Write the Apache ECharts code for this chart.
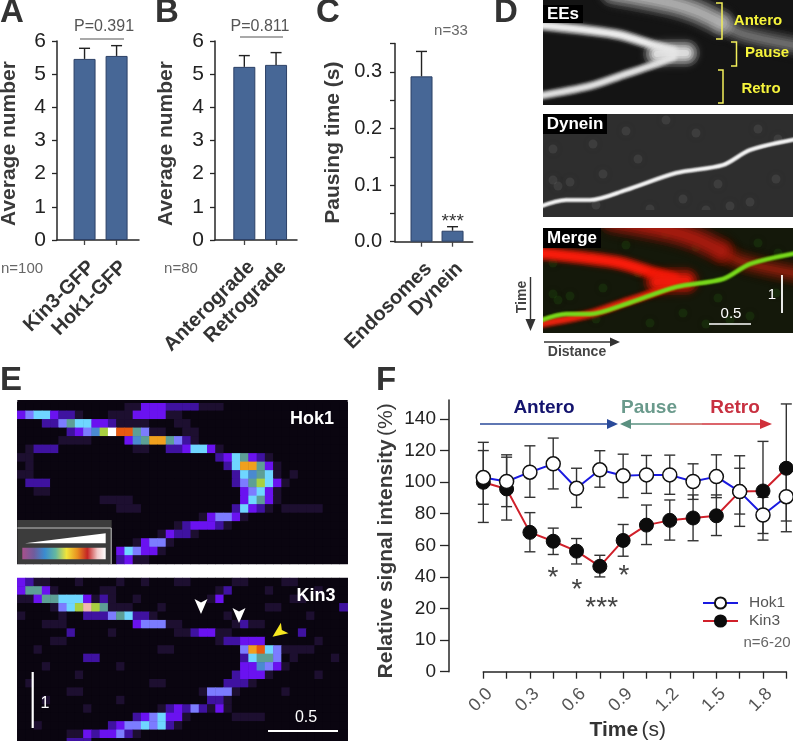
<!DOCTYPE html>
<html><head><meta charset="utf-8">
<style>html,body{margin:0;padding:0;background:#fff}#c{width:793px;height:741px}</style>
<script src="https://cdn.jsdelivr.net/npm/echarts@6/dist/echarts.min.js"></script>
</head><body><div id="c"></div>
<script>
// ---------- Data ----------
const aCats=['Kin3-GFP','Hok1-GFP'], aVals=[5.46,5.55], aHi=[5.78,5.86];
const bCats=['Anterograde','Retrograde'], bVals=[5.22,5.28], bHi=[5.56,5.65];
const cCats=['Endosomes','Dynein'], cVals=[0.292,0.0194], cHi=[0.336,0.0265];

const fTimes=['0.0','0.15','0.3','0.45','0.6','0.75','0.9','1.05','1.2','1.35','1.5','1.65','1.8','1.95'];
const fTickValues=[-20,0,20,40,60,80,100,120,140];
const fTickLabels=['0','10','20','40','60','80','100','120','140'];
const hok1Mean=[102.9,100.4,106.3,111.6,96.1,107.8,104,104.6,104.6,100.4,103.5,94,79.2,90.8];
const hok1Up=[120,115.8,123,127.9,108.8,119.9,117.7,116.9,117.1,111.6,117.3,116.7,90.4,106.3];
const hok1Lo=[86,84.5,90.4,95.7,84,96.8,90.2,92.9,92.3,89.1,90.2,72,67.5,75.4];
const kin3Mean=[99.9,95.7,68.2,62.6,56.3,46.7,63.1,72.8,75.8,77.3,78.7,94,94.4,108.8];
const kin3Up=[125.2,117.3,80.7,70.9,64.3,53.7,73.2,85.5,88.7,91.9,91.9,108.8,125.8,149.5];
const kin3Lo=[74.5,76,55.9,54.2,48.2,40,53.1,60.5,63.3,62.9,66.2,79.8,63.3,68.6];

// Kymograph traces (distance, time)
const eeOutbound=[[-4,25],[43,30],[77,35],[110,45],[130,51]];
const eeReturn=[[-4,96],[47,86],[80,75],[110,65],[130,57]];
const eeTip=[[114,54],[128,53],[143,53]];
const eeAntero=[[70,-8],[127,3],[153,11],[178,23]];
const eeAnteroTail=[[178,23],[200,34],[255,46]];
const dyneinTrace=[[-4,93],[23,86],[47,86],[83,76],[133,59],[180,51],[207,36],[254,25]];
const dyneinSpots=[[10,66],[15,72],[53,91],[50,30],[27,68],[83,17],[123,6],[153,19],[187,92],[233,65],[207,88],[163,96],[107,95],[10,35],[60,60],[140,85],[215,15],[235,25],[95,45],[175,70]];

// Pseudocolour kymographs: [row, first column, levels (base 36)]
const heatColumns=Array.from({length:40},(_,i)=>i);
const hok1Cells=[
[0,13,'11'],[0,15,'3332222'],[0,22,'11'],[0,24,'1'],
[1,0,'34553221'],[1,11,'111'],[1,14,'3333'],[1,18,'11'],
[2,3,'224655332'],[2,12,'1111'],[2,19,'11'],
[3,6,'234c7a996411'],[3,20,'11'],
[4,5,'1111'],[4,13,'3c688642'],[4,21,'1'],
[5,1,'1222'],[5,14,'11'],[5,18,'2235531'],
[6,0,'11'],[6,24,'2356321'],
[7,1,'1'],[7,25,'2588631'],
[8,0,'11'],[8,26,'25c651'],[8,33,'1'],
[9,1,'222'],[9,26,'2467531'],
[10,2,'11'],[10,27,'34531'],
[11,10,'1111'],[11,27,'35631'],
[12,12,'111'],[12,26,'25321'],[12,32,'11111'],
[13,22,'134431'],
[14,19,'1233321'],
[15,17,'13221'],
[16,14,'13441'],
[17,12,'354331'],
[18,12,'2311']];
const kin3Cells=[
[0,0,'3211'],[0,7,'1'],[0,12,'1'],[0,15,'1'],[0,19,'11'],[0,26,'11'],[0,32,'11'],
[1,0,'36631'],[1,10,'11'],[1,24,'12'],[1,30,'1'],[1,36,'1'],
[2,0,'113665553121'],[2,14,'1'],[2,23,'13'],[2,33,'11'],
[3,4,'1457b76111'],[3,17,'1'],[3,30,'11'],[3,39,'2'],
[4,0,'1'],[4,5,'1'],[4,8,'222465221'],[4,25,'1'],[4,35,'1'],
[5,3,'111'],[5,14,'3444'],[5,18,'11'],[5,26,'1211'],
[6,6,'2'],[6,11,'1'],[6,19,'1123311'],[6,34,'2'],
[7,24,'122333'],[7,4,'11'],[7,36,'1'],
[8,2,'1'],[8,17,'11'],[8,27,'48954'],[8,32,'1111'],
[9,8,'22'],[9,27,'25664'],[9,33,'1'],[9,38,'1'],
[10,12,'1'],[10,27,'33c431'],[10,3,'1'],
[11,7,'1'],[11,26,'23331'],[11,36,'1'],
[12,16,'11'],[12,25,'2221'],[12,1,'1'],
[13,6,'11'],[13,22,'14441'],[13,32,'1'],
[14,12,'1'],[14,23,'221'],[14,3,'1'],
[15,17,'123242131'],[15,8,'1'],
[16,14,'2345331'],[16,26,'1111'],
[17,11,'234454521'],[17,2,'1'],
[18,6,'11'],[18,8,'3233421'],
[19,6,'222']];
const heatPalette=['#0a0510','#1d0f30','#3f12a0','#6a12f0','#7c7cff','#6fd6ff','#5d9f96','#a8d040','#f0a01e','#e85a10','#ffffff','#f0b8b0','#4a8ad0'];

// ---------- Helpers ----------
const DARK='#262626', FONT='"Liberation Sans",Arial,sans-serif';
const grids=[],xAxes=[],yAxes=[],series=[],gfx=[];
function addGrid(left,top,width,height,extra){grids.push(Object.assign({left,top,width,height,containLabel:false,outerBoundsMode:'none'},extra||{}));return grids.length-1;}
function errorSeries(idx,data,cap,lower,color,z){
  series.push({type:'custom',xAxisIndex:idx,yAxisIndex:idx,clip:false,z:z||3,silent:true,
    encode:{x:0,y:[1,2]},data,
    renderItem(p,api){
      const x=api.value(0),a=api.coord([x,api.value(1)]),b=api.coord([x,api.value(2)]);
      const st={stroke:color,lineWidth:1.4,fill:null};
      const kids=[{type:'line',shape:{x1:a[0],y1:a[1],x2:b[0],y2:b[1]},style:st},
                  {type:'line',shape:{x1:a[0]-cap,y1:b[1],x2:a[0]+cap,y2:b[1]},style:st}];
      if(lower)kids.push({type:'line',shape:{x1:a[0]-cap,y1:a[1],x2:a[0]+cap,y2:a[1]},style:st});
      return {type:'group',children:kids};
    }});
}
function barPanel(o){
  const i=addGrid(o.left,o.top,o.width,o.height);
  xAxes.push({gridIndex:i,type:'value',min:o.xMin,max:o.xMax,splitLine:{show:false},
    axisLine:{onZero:false,lineStyle:{color:DARK,width:1.5}},
    axisTick:{customValues:[1,2],length:5,lineStyle:{color:'#444',width:1.3}},
    axisLabel:{customValues:[1,2],rotate:45,verticalAlign:'top',margin:17,color:'#333',fontFamily:FONT,fontWeight:'bold',fontSize:20,
      formatter:v=>o.cats[v-1]}});
  yAxes.push(Object.assign({gridIndex:i,type:'value',min:0,max:o.yMax,interval:o.interval,splitLine:{show:false},
    axisLine:{show:true,lineStyle:{color:DARK,width:1.5}},
    axisTick:{show:true,length:5,lineStyle:{color:DARK,width:1.3}},
    axisLabel:{margin:o.tickMargin||11,padding:[3,0,0,0],color:'#222',fontFamily:FONT,fontSize:o.tickSize||21,formatter:o.fmt},
    name:o.name,nameLocation:'middle',nameGap:o.nameGap,
    nameTextStyle:Object.assign({color:'#3a3a3a',fontFamily:FONT,fontSize:21,fontWeight:'bold'},o.nameStyle||{})}));
  series.push({type:'bar',xAxisIndex:i,yAxisIndex:i,barWidth:22,z:2,
    itemStyle:{color:'#476796',borderColor:'#2c4066',borderWidth:1},
    data:o.vals.map((v,k)=>[k+1,v])});
  errorSeries(i,o.vals.map((v,k)=>[k+1,v,o.hi[k]]),5.5,false,'#222');
}
function text(x,y,str,o){
  gfx.push({type:'text',x,y,rotation:(o&&o.rotation)||0,z:100,silent:true,
    style:Object.assign({text:str,fill:'#555',fontFamily:FONT,fontSize:15,textAlign:'center',textVerticalAlign:'middle'},o&&o.style||{})});
}
function seg(x1,y1,x2,y2,color,w){gfx.push({type:'line',z:100,silent:true,shape:{x1,y1,x2,y2},style:{stroke:color,lineWidth:w||2}});}
function poly(points,color){gfx.push({type:'polygon',z:100,silent:true,shape:{points},style:{fill:color}});}
function pline(points,color,w){gfx.push({type:'polyline',z:100,silent:true,shape:{points},style:{stroke:color,lineWidth:w||1.5,fill:null}});}
function rect(x,y,w,h,fill,stroke){gfx.push({type:'rect',z:99,silent:true,shape:{x,y,width:w,height:h},style:{fill,stroke:stroke||null,lineWidth:1}});}
function label(ch,x,y){text(x,y,ch,{style:{fontSize:33,fontWeight:'bold',fill:'#333',textAlign:'left'}});}

// ---------- A, B, C ----------
const nudge={padding:[0,6,0,0]};
barPanel({left:57,top:41,width:82,height:199,xMin:0.14,xMax:2.7,yMax:6,interval:1,cats:aCats,vals:aVals,hi:aHi,name:'Average number',nameGap:37,nameStyle:nudge});
barPanel({left:215,top:41,width:82,height:199,xMin:0.076,xMax:2.66,yMax:6,interval:1,cats:bCats,vals:bVals,hi:bHi,name:'Average number',nameGap:38,nameStyle:nudge});
barPanel({left:395,top:43.5,width:77.7,height:198.2,xMin:0.145,xMax:2.65,yMax:0.35,interval:0.05,cats:cCats,vals:cVals,hi:cHi,
  tickSize:20,tickMargin:13,fmt:v=>Math.round(v*100)%10===0?v.toFixed(1):'',
  name:'{b|Pausing time} {r|(s)}',nameGap:51,
  nameStyle:{rich:{b:{fontFamily:FONT,fontSize:21,fontWeight:'bold',color:'#3a3a3a'},r:{fontFamily:FONT,fontSize:21,color:'#3a3a3a'}}}});

// ---------- D: kymographs ----------
function softTrace(idx,data,color,width,strength){
  const s=strength==null?1:strength;
  [[2.8,.10],[2.2,.16],[1.6,.24],[1.1,.38],[.6,.6]].forEach(([w,o])=>{
    series.push({type:'line',xAxisIndex:idx,yAxisIndex:idx,data,symbol:'none',smooth:0.3,silent:true,z:2,
      lineStyle:{color,width:width*w,opacity:o*s,cap:'round',join:'round',shadowColor:color,shadowBlur:width*0.9}});
  });
}
function spots(idx,data,color,size){
  series.push({type:'scatter',xAxisIndex:idx,yAxisIndex:idx,data,symbolSize:size,silent:true,z:1,
    itemStyle:{color,shadowColor:color,shadowBlur:10}});
}
function kymoGrid(top,height,bg){
  const i=addGrid(543,top,250,height,{show:true,backgroundColor:bg,borderWidth:0});
  xAxes.push({gridIndex:i,type:'value',min:0,max:250,show:false});
  yAxes.push({gridIndex:i,type:'value',min:0,max:height,inverse:true,show:false});
  return i;
}
const d1=kymoGrid(0,105,'#141414');
softTrace(d1,eeAnteroTail,'#808080',9,0.6);
softTrace(d1,eeAntero,'#b4b4b4',11,0.9);
softTrace(d1,eeOutbound,'#eeeeee',4.5,1.2);
softTrace(d1,eeReturn,'#e2e2e2',3.8,1.15);
softTrace(d1,eeTip,'#e6e6e6',10,1);
const d2=kymoGrid(114,103,'#2e2e2e');
spots(d2,dyneinSpots,'rgba(110,110,110,.28)',9);
softTrace(d2,dyneinTrace,'#f4f4f4',2,1.3);
const d3=kymoGrid(228,105,'#14180a');
spots(d3,dyneinSpots,'rgba(40,110,20,.25)',9);
softTrace(d3,eeAnteroTail,'#a02010',9,0.55);
softTrace(d3,eeAntero,'#a81c10',11,0.95);
softTrace(d3,eeOutbound,'#f81c0c',6,1.3);
softTrace(d3,eeReturn,'#e82410',4,1.2);
softTrace(d3,eeTip,'#f01c0c',10,1.1);
softTrace(d3,dyneinTrace,'#78d81c',2.2,1.3);

// keep the soft strokes inside their panels
[[520,0,23,345,'#fff'],[543,105,250,9,'#fff'],[543,217,250,11,'#fff'],[543,333,250,8,'#fff'],[543,210,250,7,'#2e2e2e']].forEach(([x,y,w,h,c])=>
  gfx.push({type:'rect',z:98,silent:true,shape:{x,y,width:w,height:h},style:{fill:c}}));

function bannerLabel(x,y,w,h,str){rect(x,y,w,h,'#000');text(x+w/2,y+h/2+0.5,str,{style:{fill:'#fff',fontWeight:'bold',fontSize:17}});}
bannerLabel(543,5,40,18,'EEs');bannerLabel(543,114,64,20,'Dynein');bannerLabel(543,228,58,20,'Merge');
const YEL='#f2ee5a';
pline([[716,3],[722,3],[722,39],[716,39]],YEL);
pline([[731,42],[736.5,42],[736.5,66],[731,66]],YEL);
pline([[718,70],[723,70],[723,103],[718,103]],YEL);
const yst={style:{fill:'#f6f43c',fontWeight:'bold',fontSize:15}};
text(758,21,'Antero',yst);text(767,53,'Pause',yst);text(761,89,'Retro',yst);
seg(709,324,751,324,'#fff',1.6);text(731,314,'0.5',{style:{fill:'#fff',fontSize:15}});
seg(782,275,782,313,'#fff',1.8);text(772,295,'1',{style:{fill:'#fff',fontSize:15}});
text(522,297,'Time',{rotation:Math.PI/2,style:{fill:'#444',fontWeight:'bold',fontSize:14}});
seg(530.5,277,530.5,322,'#333',1.4);poly([[525.5,319],[535.5,319],[530.5,331]],'#333');
seg(544,342,612,342,'#333',1.4);poly([[610,337.5],[620,342],[610,346.5]],'#333');
text(577,352,'Distance',{style:{fill:'#444',fontWeight:'bold',fontSize:14}});

// ---------- E: pseudocolour kymographs ----------
function cellsToData(cells,rows){
  const m=Array.from({length:rows},()=>heatColumns.map(()=>0));
  cells.forEach(([r,c,s])=>{[...s].forEach((ch,k)=>{if(c+k<40)m[r][c+k]=parseInt(ch,36);});});
  const out=[];m.forEach((row,r)=>row.forEach((v,c)=>out.push([c,r,v])));return out;
}
const rowIdx=n=>Array.from({length:n},(_,i)=>i);
const heatIdx=[];
function heatPanel(top,height,rows,cells){
  const i=addGrid(17.3,top,330.4,height,{show:true,backgroundColor:heatPalette[0],borderWidth:0});
  xAxes.push({gridIndex:i,type:'category',data:heatColumns,show:false});
  yAxes.push({gridIndex:i,type:'category',data:rowIdx(rows),inverse:true,show:false});
  heatIdx.push(series.length);
  series.push({type:'heatmap',xAxisIndex:i,yAxisIndex:i,silent:true,progressive:0,data:cellsToData(cells,rows)});
}
rect(17.3,400,330.4,3,heatPalette[0]);
heatPanel(402.3,161.7,19,hok1Cells);
heatPanel(578,168.7,20,kin3Cells);
text(312,419,'Hok1',{style:{fill:'#fff',fontWeight:'bold',fontSize:18}});
text(316,596,'Kin3',{style:{fill:'#fff',fontWeight:'bold',fontSize:18}});
rect(17.3,520,94.4,44,'#3c3c3c');
pline([[17.3,528],[111.2,528],[111.2,564]],'#bdbdbd',1);
poly([[25,543.3],[105.7,533.3],[105.7,543.3]],'#fff');
gfx.push({type:'rect',z:100,silent:true,shape:{x:22.3,y:547.7,width:83.4,height:11.6},style:{fill:new echarts.graphic.LinearGradient(0,0,1,0,[
 {offset:0,color:'#a8508c'},{offset:.14,color:'#705c9c'},{offset:.27,color:'#3a8cd0'},{offset:.4,color:'#64b8a0'},{offset:.53,color:'#f2e43a'},{offset:.66,color:'#e89020'},{offset:.78,color:'#c42424'},{offset:.9,color:'#f0c8c8'},{offset:1,color:'#ffffff'}])}});
function chevron(cx,cy,ang,color){
  const p=[[-6.5,-7],[0,-3.5],[6.5,-7],[0,8]].map(([x,y])=>[cx+x*Math.cos(ang)-y*Math.sin(ang),cy+x*Math.sin(ang)+y*Math.cos(ang)]);
  poly(p,color);
}
chevron(201,606,0,'#fff');chevron(239,615,0,'#fff');chevron(279,632,0.95,'#f6e620');
seg(32.7,672,32.7,728,'#fff',2.2);text(45,704,'1',{style:{fill:'#fff',fontSize:16}});
seg(268,731,338,731,'#fff',2.2);text(306,718,'0.5',{style:{fill:'#fff',fontSize:16}});

// ---------- F ----------
const f=addGrid(483.3,400,303,271.7);
xAxes.push({gridIndex:f,type:'category',data:fTimes,boundaryGap:false,
  axisLine:{lineStyle:{color:DARK,width:1.5},onZero:false},
  axisTick:{interval:0,length:7,lineStyle:{color:DARK,width:1.3}},
  axisLabel:{interval:1,rotate:45,verticalAlign:'top',margin:13,color:'#555',fontFamily:FONT,fontSize:18},
  name:'{b|Time} {r|(s)}',nameLocation:'middle',nameGap:48,
  nameTextStyle:{padding:[0,14,0,0],rich:{b:{fontFamily:FONT,fontSize:21,fontWeight:'bold',color:'#333'},r:{fontFamily:FONT,fontSize:21,color:'#333'}}}});
yAxes.push({gridIndex:f,type:'value',min:-20,max:152,offset:34.3,splitLine:{show:false},
  axisLine:{show:true,lineStyle:{color:DARK,width:1.5}},
  axisTick:{show:true,length:9,customValues:fTickValues,lineStyle:{color:DARK,width:1.3}},
  axisLabel:{customValues:fTickValues,margin:13,padding:[2,0,0,0],color:'#222',fontFamily:FONT,fontSize:19,formatter:v=>fTickLabels[fTickValues.indexOf(v)]},
  name:'{b|Relative signal intensity} {r|(%)}',nameLocation:'middle',nameGap:52,
  nameTextStyle:{padding:[0,10,0,0],rich:{b:{fontFamily:FONT,fontSize:21,fontWeight:'bold',color:'#3a3a3a'},r:{fontFamily:FONT,fontSize:21,color:'#3a3a3a'}}}});
errorSeries(f,fTimes.map((t,i)=>[i,kin3Lo[i],kin3Up[i]]),5.5,true,'#333',3);
errorSeries(f,fTimes.map((t,i)=>[i,hok1Lo[i],hok1Up[i]]),5.5,true,'#333',3);
series.push({name:'Kin3',type:'line',xAxisIndex:f,yAxisIndex:f,data:kin3Mean,z:4,clip:false,symbol:'circle',symbolSize:14,
  lineStyle:{color:'#d0202a',width:2},itemStyle:{color:'#0c0c0c',borderColor:'#0c0c0c',borderWidth:1}});
series.push({name:'Hok1',type:'line',xAxisIndex:f,yAxisIndex:f,data:hok1Mean,z:5,clip:false,symbol:'circle',symbolSize:14,
  lineStyle:{color:'#1a1ae0',width:2},itemStyle:{color:'#ffffff',borderColor:'#111',borderWidth:1.5}});

text(544,408,'Antero',{style:{fill:'#14146e',fontWeight:'bold',fontSize:19}});
text(649,408,'Pause',{style:{fill:'#6a9a8c',fontWeight:'bold',fontSize:19}});
text(735,408,'Retro',{style:{fill:'#c83040',fontWeight:'bold',fontSize:19}});
seg(480,424,608,424,'#2a4a9a',1.6);poly([[607,419],[618,424],[607,429]],'#2a4a9a');
seg(630,424,670,424,'#5a9080',1.6);poly([[620,424],[631,419],[631,429]],'#5a9080');
seg(670,424,702,424,'#c8605a',1.6);
seg(702,424,762,424,'#d0303a',1.6);poly([[760,419],[772,424],[760,429]],'#d0303a');
const star={style:{fill:'#444',fontSize:28}};
text(553,578,'*',star);text(577,590,'*',star);text(624,576,'*',star);text(601.7,608,'***',star);
text(452.7,222,'***',{style:{fill:'#333',fontSize:19}});

// annotations
text(104,27,'P=0.391',{style:{fontSize:16}});seg(80,39,124,39,'#555',1.2);
text(260,27,'P=0.811',{style:{fontSize:16}});seg(240,37,283,37,'#555',1.2);
text(22,269,'n=100',{style:{fontSize:15,fill:'#666'}});
text(181,269,'n=80',{style:{fontSize:15,fill:'#666'}});
text(451,31,'n=33',{style:{fontSize:15,fill:'#666'}});
text(767,643,'n=6-20',{style:{fontSize:15,fill:'#666'}});
label('A',0,13);label('B',155,13);label('C',316,13);label('D',494,13);label('E',0,381);label('F',376,381);

const chart=echarts.init(document.getElementById('c'),null,{renderer:'canvas'});
chart.setOption({
  animation:false,backgroundColor:'#fff',textStyle:{fontFamily:FONT},
  grid:grids,xAxis:xAxes,yAxis:yAxes,series,
  visualMap:[{type:'continuous',show:false,seriesIndex:heatIdx,dimension:2,min:0,max:heatPalette.length-1,inRange:{color:heatPalette}}],
  legend:{orient:'vertical',left:697,top:590,itemWidth:35,itemHeight:14,itemGap:2,data:['Hok1','Kin3'],
    textStyle:{color:'#555',fontFamily:FONT,fontSize:15.5,padding:[0,0,0,6]}},
  graphic:{elements:gfx}
});
</script></body></html>
